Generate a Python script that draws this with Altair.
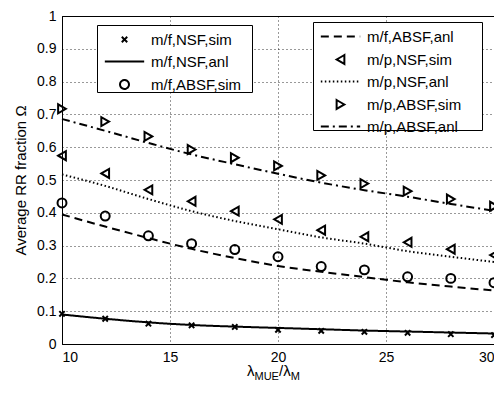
import altair as alt
import pandas as pd

# ---------------- data ----------------
x_vals = [10, 12, 14, 16, 18, 20, 22, 24, 26, 28, 30]

mf_nsf_sim = [0.092, 0.077, 0.062, 0.057, 0.052, 0.043, 0.040, 0.037, 0.034, 0.030, 0.027]
mf_nsf_anl = [0.090, 0.077, 0.066, 0.058, 0.053, 0.049, 0.045, 0.041, 0.038, 0.035, 0.032]
mf_absf_sim = [0.430, 0.390, 0.330, 0.306, 0.288, 0.266, 0.236, 0.226, 0.205, 0.200, 0.187]
mf_absf_anl = [0.395, 0.358, 0.323, 0.290, 0.262, 0.238, 0.220, 0.204, 0.188, 0.175, 0.163]
mp_nsf_sim = [0.574, 0.520, 0.470, 0.435, 0.405, 0.380, 0.347, 0.327, 0.310, 0.289, 0.271]
mp_nsf_anl = [0.517, 0.482, 0.442, 0.405, 0.375, 0.350, 0.325, 0.306, 0.283, 0.266, 0.250]
mp_absf_sim = [0.717, 0.678, 0.633, 0.593, 0.568, 0.543, 0.514, 0.489, 0.466, 0.442, 0.420]
mp_absf_anl = [0.686, 0.650, 0.613, 0.578, 0.548, 0.519, 0.492, 0.469, 0.449, 0.427, 0.406]

legend_a = ["m/f,NSF,sim", "m/f,NSF,anl", "m/f,ABSF,sim"]
legend_b = ["m/f,ABSF,anl", "m/p,NSF,sim", "m/p,NSF,anl", "m/p,ABSF,sim", "m/p,ABSF,anl"]

x_ticks = [10, 15, 20, 25, 30]
y_ticks = [0, 0.1, 0.2, 0.3, 0.4, 0.5, 0.6, 0.7, 0.8, 0.9, 1.0]

series = {
    "m/f,NSF,sim": mf_nsf_sim,
    "m/f,NSF,anl": mf_nsf_anl,
    "m/f,ABSF,sim": mf_absf_sim,
    "m/f,ABSF,anl": mf_absf_anl,
    "m/p,NSF,sim": mp_nsf_sim,
    "m/p,NSF,anl": mp_nsf_anl,
    "m/p,ABSF,sim": mp_absf_sim,
    "m/p,ABSF,anl": mp_absf_anl,
}

rows = []
for name, vals in series.items():
    for xv, yv in zip(x_vals, vals):
        rows.append({"x": xv, "y": yv, "series": name})
df = pd.DataFrame(rows)

FONT = "Liberation Sans"
SIZE = 80
X_PATH = "M-0.6,-0.6L0.6,0.6M-0.6,0.6L0.6,-0.6"
LINE_PATH = "M-4.4,0H4.4"

x_enc = alt.X("x:Q", scale=alt.Scale(domain=[10, 30], nice=False),
              axis=alt.Axis(values=x_ticks, title=None, format="d"))
y_enc = alt.Y("y:Q", scale=alt.Scale(domain=[0, 1], nice=False),
              axis=alt.Axis(values=y_ticks, title="Average RR fraction Ω",
                            labelExpr="toString(round(datum.value*10)/10)"))


def make_legend(lx, ly):
    return alt.Legend(orient="none", legendX=lx, legendY=ly, title=None,
                      padding=5, symbolSize=SIZE, symbolStrokeWidth=2, symbolOffset=15,
                      labelOffset=19, labelFont=FONT, labelFontSize=15,
                      labelColor="black", labelLimit=300, rowPadding=6,
                      symbolStrokeColor="black")


def group_layer(names, shapes, dashes, lx, ly):
    leg = make_legend(lx, ly)
    shape_enc = alt.Shape("series:N", scale=alt.Scale(domain=names, range=shapes), legend=leg)
    dash_enc = alt.StrokeDash("series:N", scale=alt.Scale(domain=names, range=dashes), legend=leg)
    sim = [n for n in names if n.endswith("sim")]
    anl = [n for n in names if n.endswith("anl")]
    pts = alt.Chart(df[df["series"].isin(sim)]).mark_point(
        filled=False, size=SIZE, strokeWidth=2, color="black", opacity=1
    ).encode(x=x_enc, y=y_enc, shape=shape_enc)
    lns = alt.Chart(df[df["series"].isin(anl)]).mark_line(
        color="black", strokeWidth=2, interpolate="monotone"
    ).encode(x=x_enc, y=y_enc, strokeDash=dash_enc, detail="series:N")
    return alt.layer(lns, pts)


layer_a = group_layer(legend_a, [X_PATH, LINE_PATH, "circle"],
                      [[1, 0], [1, 0], [1, 0]], 35, 11)
layer_b = group_layer(legend_b, [LINE_PATH, "triangle-left", LINE_PATH, "triangle-right", LINE_PATH],
                      [[8, 5], [1, 0], [1.5, 2.5], [1, 0], [8, 4, 2, 4]], 251, 8)

one = pd.DataFrame({"k": [0]})


def box(x1, x2, y1, y2):
    return alt.Chart(one).mark_rect(fill="white", stroke="black", strokeWidth=1).encode(
        x=alt.value(x1), x2=alt.value(x2), y=alt.value(y1), y2=alt.value(y2))


def txt(s, px, py, size):
    return alt.Chart(one).mark_text(text=s, align="left", baseline="alphabetic",
                                    font=FONT, fontSize=size, color="black").encode(
        x=alt.value(px), y=alt.value(py))


deco = [
    box(35.5, 190.5, 9.5, 76.5),
    box(251.5, 420.5, 6.5, 114.5),
    txt("λ", 185, 360, 15),
    txt("MUE", 192.5, 363.5, 11),
    txt("/λ", 217, 360, 15),
    txt("M", 228.7, 363.5, 11),
]

chart = alt.layer(layer_a, layer_b, *deco).resolve_scale(
    shape="independent", strokeDash="independent"
).properties(
    width=432, height=328,
    autosize=alt.AutoSizeParams(type="none"),
    padding={"left": 54, "top": 8, "right": 0, "bottom": 36},
).configure_view(
    stroke="black", strokeWidth=1
).configure_axis(
    labelFont=FONT, labelFontSize=14, labelColor="black",
    titleFont=FONT, titleFontSize=15, titleColor="black", titleFontWeight="normal",
    domainColor="black", domainWidth=1,
    grid=True, gridColor="#000000", gridDash=[1, 3], gridWidth=1, gridOpacity=0.8,
    ticks=False, labelPadding=6, titlePadding=8,
)

chart.save("out.html", embed_options={"renderer": "svg", "actions": False})
